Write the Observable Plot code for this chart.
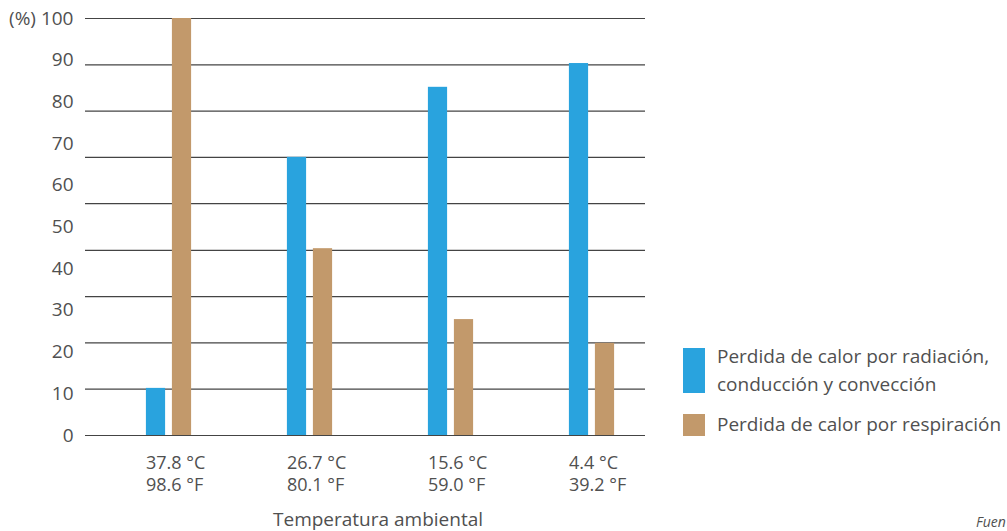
<!DOCTYPE html>
<html>
<head>
<meta charset="utf-8">
<script src="https://cdn.jsdelivr.net/npm/d3@7"></script>
<script src="https://cdn.jsdelivr.net/npm/@observablehq/plot@0.6"></script>
<style>
  html, body { margin: 0; padding: 0; background: #fff; overflow: hidden; width: 1007px; height: 531px; }
  #wrap { position: relative; width: 1007px; height: 531px; font-family: "Open Sans", sans-serif; color: #505050; }
  .leg-sw { position: absolute; left: 683px; width: 22px; }
  .leg-tx { position: absolute; left: 717px; font-size: 19px; line-height: 28px; white-space: nowrap; }
  #xtitle { position: absolute; top: 506px; left: 273px; font-size: 19px; line-height: 26px; white-space: nowrap; }
  #fuente { position: absolute; top: 513px; left: 976px; font-size: 14px; line-height: 18px; font-style: italic; white-space: nowrap; }
</style>
</head>
<body>
<div id="wrap"></div>
<script>
// Data
const categories = ["37.8 °C\n98.6 °F", "26.7 °C\n80.1 °F", "15.6 °C\n59.0 °F", "4.4 °C\n39.2 °F"];
const seriesNames = ["Perdida de calor por radiación, conducción y convección", "Perdida de calor por respiración"];
const radiacion = [11.3, 66.7, 83.5, 89.2];
const respiracion = [100, 44.8, 27.8, 22.1];
const yTicks = [0, 10, 20, 30, 40, 50, 60, 70, 80, 90, 100];
const gridValues = [0, 11.1, 22.2, 33.3, 44.4, 55.6, 66.7, 77.8, 88.9, 100];
const colors = ["#29a3de", "#c2996b"];

const rowsA = categories.map((c, i) => ({cat: c, value: radiacion[i]}));
const rowsB = categories.map((c, i) => ({cat: c, value: respiracion[i]}));

const chart = Plot.plot({
  width: 1007,
  height: 531,
  marginTop: 18,
  marginBottom: 96,
  marginLeft: 85,
  marginRight: 362,
  style: {fontFamily: "Open Sans, sans-serif", fontSize: "18px", color: "#505050", background: "white"},
  x: {type: "band", domain: categories, range: [96, 663], padding: 0},
  y: {domain: [0, 100]},
  marks: [
    Plot.ruleY(gridValues, {stroke: "#444", strokeWidth: 1.2}),
    Plot.barY(rowsA, {x: "cat", y: "value", fill: colors[0], dx: -13, insetLeft: 60.9, insetRight: 60.9}),
    Plot.barY(rowsB, {x: "cat", y: "value", fill: colors[1], dx: 13, insetLeft: 60.9, insetRight: 60.9}),
    Plot.axisY({ticks: yTicks, tickSize: 0, tickPadding: 12, label: null, fontSize: 19, fill: "#505050",
      tickFormat: d => d === 100 ? "(%) 100" : String(d)}),
    Plot.axisX({tickSize: 0, tickPadding: 18, label: null, textAnchor: "start", dx: -23, lineAnchor: "top",
      lineHeight: 1.22, fontSize: 18, fill: "#505050"})
  ]
});

const wrap = document.getElementById("wrap");
wrap.appendChild(chart);

function addDiv(cls, id, style, text) {
  const d = document.createElement("div");
  if (cls) d.className = cls;
  if (id) d.id = id;
  Object.assign(d.style, style);
  if (text) d.textContent = text;
  wrap.appendChild(d);
  return d;
}
addDiv("leg-sw", null, {top: "348px", height: "45px", background: colors[0]});
addDiv("leg-tx", null, {top: "342px"}, "Perdida de calor por radiación,");
addDiv("leg-tx", null, {top: "370px"}, "conducción y convección");
addDiv("leg-sw", null, {top: "414px", height: "22px", background: colors[1]});
addDiv("leg-tx", null, {top: "410px"}, "Perdida de calor por respiración");
addDiv(null, "xtitle", {}, "Temperatura ambiental");
addDiv(null, "fuente", {}, "Fuen");
</script>
</body>
</html>
